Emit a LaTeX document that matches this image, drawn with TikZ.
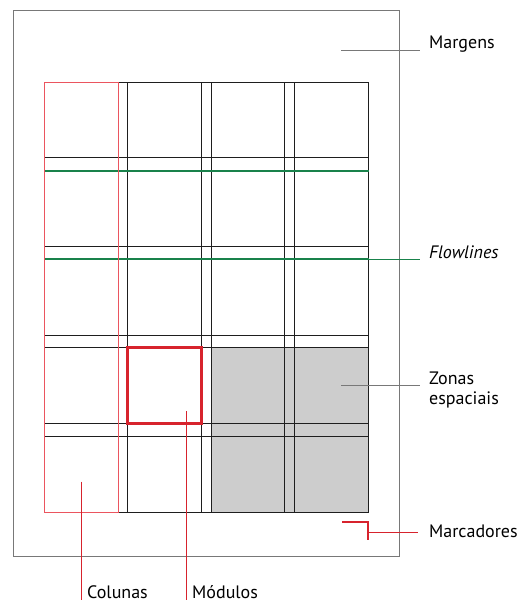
\documentclass[tikz,border=0pt]{standalone}
\usepackage{fontspec}
\setmainfont{PT Sans}
\usetikzlibrary{positioning}
\definecolor{FrameGray}{RGB}{120,120,120}
\definecolor{GridBlack}{RGB}{30,30,30}
\definecolor{GuideRed}{RGB}{215,35,45}
\definecolor{ColRed}{RGB}{235,85,95}
\definecolor{FlowGreen}{RGB}{25,130,75}
\definecolor{ZoneGray}{RGB}{205,205,205}
\begin{document}
\begin{tikzpicture}[x=1pt,y=-1pt,
    lbl/.style={anchor=base west,inner sep=0pt,font=\fontsize{18}{20}\selectfont},
    gridline/.style={GridBlack,line width=1.5pt},
    leader/.style={FrameGray,line width=1.3pt},
    redleader/.style={GuideRed,line width=1.2pt}]
      \useasboundingbox (0,0) rectangle (520,604);
      \draw[FrameGray,line width=1.5pt] (13.5,10.5) rectangle (399.5,556.5);
      \fill[ZoneGray] (211.5,347.5) rectangle (368.5,512.5);
      \foreach \x in {44.5,118.5,127.5,201.5,211.5,284.5,294.5,368.5}
        \draw[gridline] (\x,82.5)--(\x,512.5);
      \foreach \y in {82.5,157.5,170.5,246.5,259.5,335.5,347.5,423.5,436.5,512.5}
        \draw[gridline] (44.5,\y)--(368.5,\y);
      \draw[FlowGreen,line width=2.2pt] (44.5,171)--(368.5,171);
      \draw[FlowGreen,line width=2.2pt] (44.5,259)--(368.5,259);
      \draw[ColRed,line width=1.6pt] (44.5,82.5) rectangle (118.5,512.5);
      \draw[GuideRed,line width=2.4pt] (127.5,347.5) rectangle (201.5,423.5);
      \draw[GuideRed,line width=2pt] (342,522)--(368,522)--(368,539.5);
      % labels
      \node[lbl] (margens) at (429,49) {Margens};
      \node[lbl] (flow) at (429,258.5) {\itshape Flowlines};
      \node[lbl,align=left,anchor=north west] (zonas) at (429,372) {Zonas\\espaciais};
      \node[lbl] (marc) at (429,537) {Marcadores};
      \node[lbl] (colunas) at (87,598) {Colunas};
      \node[lbl] (modulos) at (192,598) {Módulos};
      \coordinate (margA) at (341,50.5);
      \coordinate (margB) at (420,50.5);
      \coordinate (flowA) at (368.5,259);
      \coordinate (flowB) at (420,259);
      \coordinate (zonA) at (341,385.5);
      \coordinate (zonB) at (420,385.5);
      \coordinate (marcA) at (368,532.5);
      \coordinate (marcB) at (418,532.5);
      \coordinate (colA) at (81.5,481.7);
      \coordinate (colB) at (81.5,600);
      \coordinate (modA) at (186.5,411);
      \coordinate (modB) at (186.5,600);
      \draw[leader] (margA)--(margB);
      \draw[FlowGreen,line width=1pt] (flowA)--(flowB);
      \draw[leader] (zonA)--(zonB);
      \draw[redleader] (marcA)--(marcB);
      \draw[redleader] (colA)--(colB);
      \draw[redleader] (modA)--(modB);
\end{tikzpicture}
\end{document}
